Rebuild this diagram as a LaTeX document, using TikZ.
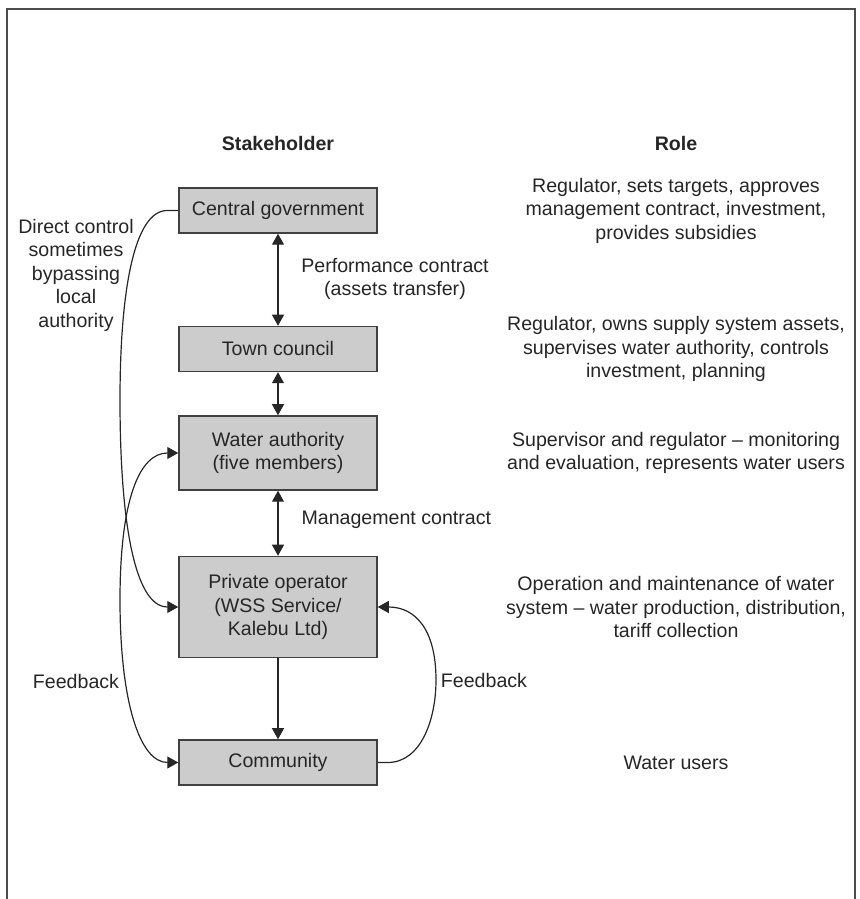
\documentclass[tikz,border=0pt]{standalone}
\usepackage{fontspec}
\setmainfont{Liberation Sans}
\usetikzlibrary{arrows.meta, positioning}

\begin{document}
\begin{tikzpicture}[
    x=1pt, y=1pt,
    every node/.style={font=\fontsize{19.6}{23.5}\selectfont, text=black!85},
    stake/.style={
        rectangle,
        minimum width=198pt,
        minimum height=45pt,
        inner sep=2pt,
        align=center,
        draw=black!75,
        fill=gray!40,
        line width=1.5pt
    },
    roletext/.style={align=center},
    head/.style={font=\fontsize{19.6}{23.5}\selectfont\bfseries},
    arrow/.style={line width=1.2pt, draw=black!85, -{Triangle[width=12pt,length=11pt]}},
    twoway/.style={arrow, {Triangle[width=12pt,length=11pt]}-{Triangle[width=12pt,length=11pt]}}
]
    \useasboundingbox (0,0) rectangle (859,899);

    % Outer frame (open at the bottom)
    \draw[line width=2pt, draw=black!70] (7,0) -- (7,890) -- (855,890) -- (855,0);

    % Column headings
    \node (stakehd) [head] at (278,755) {Stakeholder};
    \node (rolehd) [head] at (676,755) {Role};

    % Stakeholders
    \node (cg) [stake] at (278,688.5) {Central government};
    \node (tc) [stake, below=92pt of cg] {Town council};
    \node (wa) [stake, minimum height=74pt, below=43pt of tc] {Water authority\\(five members)};
    \node (po) [stake, minimum height=101pt, below=65pt of wa] {Private operator\\(WSS Service/\\Kalebu Ltd)};
    \node (comm) [stake, below=81pt of po] {Community};

    % Roles, level with each stakeholder
    \node (r_cg) [roletext] at (cg -| rolehd) {Regulator, sets targets, approves\\management contract, investment,\\provides subsidies};
    \node (r_tc) [roletext] at (tc -| rolehd) {Regulator, owns supply system assets,\\supervises water authority, controls\\investment, planning};
    \node (r_wa) [roletext] at (wa -| rolehd) {Supervisor and regulator – monitoring\\and evaluation, represents water users};
    \node (r_po) [roletext] at (po -| rolehd) {Operation and maintenance of water\\system – water production, distribution,\\tariff collection};
    \node (r_comm) [roletext] at (comm -| rolehd) {Water users};

    % Link labels
    \node (perf) [align=center] at (395,620) {Performance contract\\(assets transfer)};
    \node (mgmt) [anchor=west] at (298,379) {Management contract};
    \node (direct) [align=center] at (76,624) {Direct control\\sometimes\\bypassing\\local\\authority};
    \node (fbleft) at (76,218) {Feedback};
    \node (fbright) at (484,219) {Feedback};

    % Turning points of the side curves
    \coordinate (dcmid) at (120,499);
    \coordinate (fblmid) at (120,299);
    \coordinate (fbrmid) at (436,219);

    % Draw connections
    \draw [twoway] (cg) -- (tc);
    \draw [twoway] (tc) -- (wa);
    \draw [twoway] (wa) -- (po);
    \draw [arrow] (po) -- (comm);

    \draw [arrow] (cg.west) -- ++(-11,0) .. controls +(-33,0) and +(0,110) .. (dcmid)
        .. controls +(0,-120) and +(-44,0) .. (po.west);
    \draw [twoway] (wa.west) .. controls +(-39,0) and +(0,100) .. (fblmid)
        .. controls +(0,-100) and +(-39,0) .. (comm.west);
    \draw [arrow] (comm.east) -- ++(10,0) .. controls +(33,0) and +(0,-40) .. (fbrmid)
        .. controls +(0,50) and +(38,0) .. (po.east);

\end{tikzpicture}
\end{document}
